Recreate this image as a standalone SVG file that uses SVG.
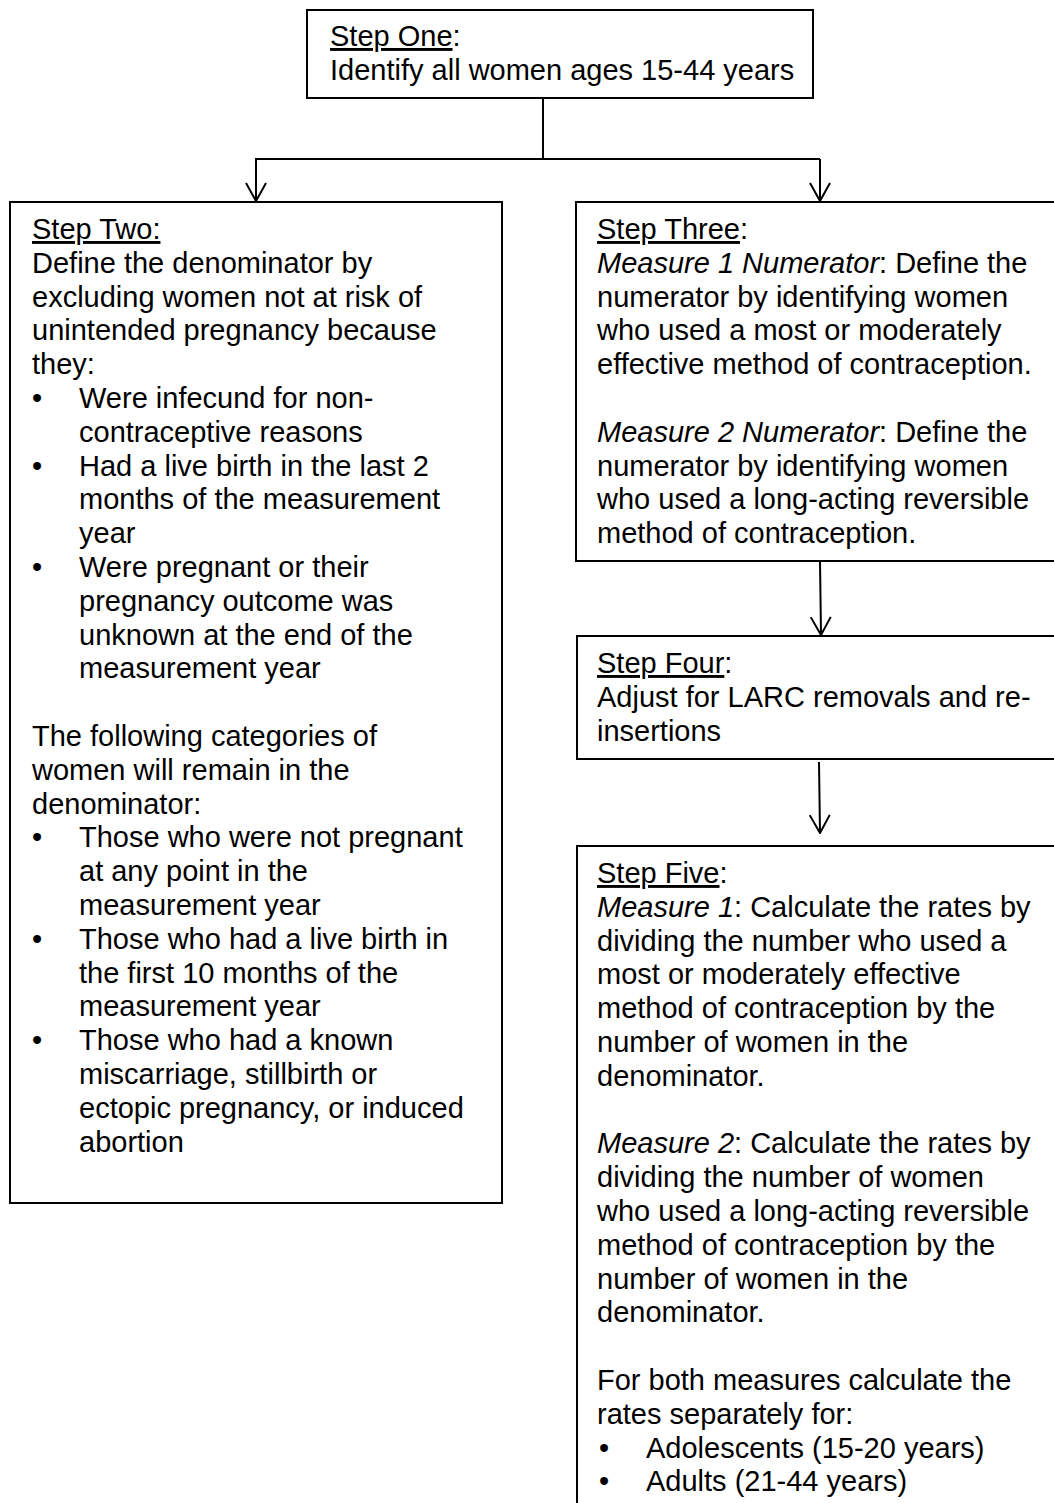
<svg xmlns="http://www.w3.org/2000/svg" width="1054" height="1503" viewBox="0 0 1054 1503">
<style>
text{font-family:"Liberation Sans",Arial,sans-serif;font-size:29px;fill:#000}
.box{fill:#fff;stroke:#000;stroke-width:2}
.ln{fill:none;stroke:#000;stroke-width:2}
.u{text-decoration:underline}
.i{font-style:italic}
</style>
<defs>
<marker id="arr" viewBox="0 0 20 22" refX="19" refY="11" markerWidth="20" markerHeight="22" markerUnits="userSpaceOnUse" orient="auto">
<path d="M1,1 L19,11 L1,21" fill="none" stroke="#000" stroke-width="2"/>
</marker>
</defs>
<rect width="1054" height="1503" fill="#fff"/>
<g id="connectors">
<path class="ln" d="M543,98 V159"/>
<path class="ln" d="M255,159 H820"/>
<path class="ln" d="M256,159 V201" marker-end="url(#arr)"/>
<path class="ln" d="M820,159 V201" marker-end="url(#arr)"/>
<path class="ln" d="M820,561 L821,635" marker-end="url(#arr)"/>
<path class="ln" d="M819,762 L820,833" marker-end="url(#arr)"/>
</g>
<g id="step1">
<rect class="box" x="307" y="10" width="506" height="88"/>
<text x="330" y="46"><tspan class="u">Step One</tspan>:</text>
<text x="330" y="80">Identify all women ages 15-44 years</text>
</g>
<g id="step2">
<rect class="box" x="10" y="202" width="492" height="1001"/>
<text x="32" y="239"><tspan class="u">Step Two:</tspan></text>
<text x="32" y="272.8">Define the denominator by</text>
<text x="32" y="306.6">excluding women not at risk of</text>
<text x="32" y="340.4">unintended pregnancy because</text>
<text x="32" y="374.2">they:</text>
<text x="32" y="408">•</text><text x="79" y="408">Were infecund for non-</text>
<text x="79" y="441.8">contraceptive reasons</text>
<text x="32" y="475.6">•</text><text x="79" y="475.6">Had a live birth in the last 2</text>
<text x="79" y="509.4">months of the measurement</text>
<text x="79" y="543.2">year</text>
<text x="32" y="577">•</text><text x="79" y="577">Were pregnant or their</text>
<text x="79" y="610.8">pregnancy outcome was</text>
<text x="79" y="644.6">unknown at the end of the</text>
<text x="79" y="678.4">measurement year</text>
<text x="32" y="746">The following categories of</text>
<text x="32" y="779.8">women will remain in the</text>
<text x="32" y="813.6">denominator:</text>
<text x="32" y="847.4">•</text><text x="79" y="847.4">Those who were not pregnant</text>
<text x="79" y="881.2">at any point in the</text>
<text x="79" y="915">measurement year</text>
<text x="32" y="948.8">•</text><text x="79" y="948.8">Those who had a live birth in</text>
<text x="79" y="982.6">the first 10 months of the</text>
<text x="79" y="1016.4">measurement year</text>
<text x="32" y="1050.2">•</text><text x="79" y="1050.2">Those who had a known</text>
<text x="79" y="1084">miscarriage, stillbirth or</text>
<text x="79" y="1117.8">ectopic pregnancy, or induced</text>
<text x="79" y="1151.6">abortion</text>
</g>
<g id="step3">
<rect class="box" x="576" y="202" width="490" height="359"/>
<text x="597" y="239"><tspan class="u">Step Three</tspan>:</text>
<text x="597" y="272.8"><tspan class="i">Measure 1 Numerator</tspan>: Define the</text>
<text x="597" y="306.6">numerator by identifying women</text>
<text x="597" y="340.4">who used a most or moderately</text>
<text x="597" y="374.2">effective method of contraception.</text>
<text x="597" y="441.8"><tspan class="i">Measure 2 Numerator</tspan>: Define the</text>
<text x="597" y="475.6">numerator by identifying women</text>
<text x="597" y="509.4">who used a long-acting reversible</text>
<text x="597" y="543.2">method of contraception.</text>
</g>
<g id="step4">
<rect class="box" x="577" y="636" width="490" height="123"/>
<text x="597" y="673"><tspan class="u">Step Four</tspan>:</text>
<text x="597" y="706.8">Adjust for LARC removals and re-</text>
<text x="597" y="740.6">insertions</text>
</g>
<g id="step5">
<rect class="box" x="577" y="846" width="490" height="680"/>
<text x="597" y="883"><tspan class="u">Step Five</tspan>:</text>
<text x="597" y="916.8"><tspan class="i">Measure 1</tspan>: Calculate the rates by</text>
<text x="597" y="950.6">dividing the number who used a</text>
<text x="597" y="984.4">most or moderately effective</text>
<text x="597" y="1018.2">method of contraception by the</text>
<text x="597" y="1052">number of women in the</text>
<text x="597" y="1085.8">denominator.</text>
<text x="597" y="1153.4"><tspan class="i">Measure 2</tspan>: Calculate the rates by</text>
<text x="597" y="1187.2">dividing the number of women</text>
<text x="597" y="1221">who used a long-acting reversible</text>
<text x="597" y="1254.8">method of contraception by the</text>
<text x="597" y="1288.6">number of women in the</text>
<text x="597" y="1322.4">denominator.</text>
<text x="597" y="1390">For both measures calculate the</text>
<text x="597" y="1423.8">rates separately for:</text>
<text x="599" y="1457.6">•</text><text x="646" y="1457.6">Adolescents (15-20 years)</text>
<text x="599" y="1491.4">•</text><text x="646" y="1491.4">Adults (21-44 years)</text>
</g>
</svg>
